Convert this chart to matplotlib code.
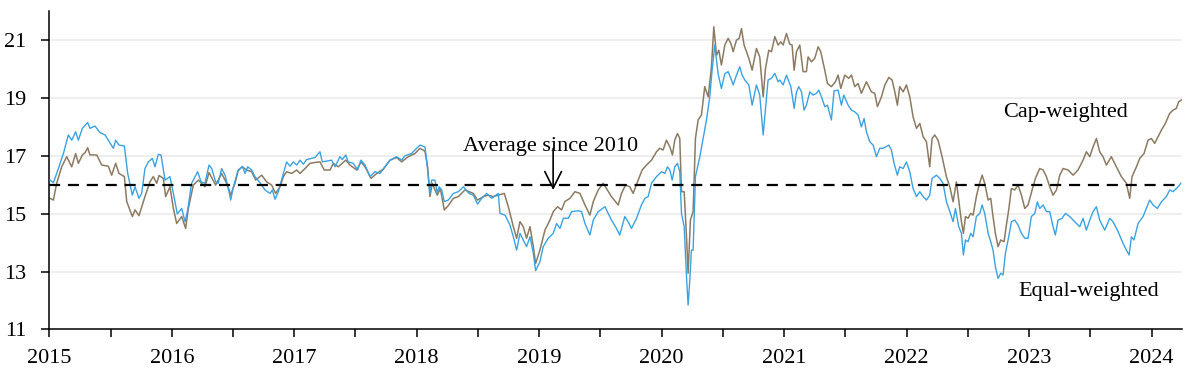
import numpy as np
import matplotlib
matplotlib.use("Agg")
import matplotlib.pyplot as plt
from matplotlib.ticker import MultipleLocator

plt.rcParams['font.family'] = ['Liberation Serif', 'DejaVu Serif']

# equal-weighted series (decimal years, value)
eq_dates = [2015.006, 2015.033, 2015.074, 2015.115, 2015.155, 2015.183, 2015.215, 2015.237, 2015.270, 2015.313,
            2015.332, 2015.373, 2015.414, 2015.455, 2015.482, 2015.523, 2015.542, 2015.569, 2015.613, 2015.640,
            2015.678, 2015.700, 2015.732, 2015.754, 2015.781, 2015.809, 2015.841, 2015.863, 2015.890, 2015.912,
            2015.945, 2015.985, 2016.013, 2016.045, 2016.081, 2016.108,
            2016.130, 2016.162, 2016.211, 2016.239, 2016.271, 2016.304, 2016.326, 2016.358, 2016.380, 2016.407,
            2016.435, 2016.462, 2016.481, 2016.503, 2016.538, 2016.576, 2016.598, 2016.620, 2016.652, 2016.679,
            2016.720, 2016.761, 2016.802, 2016.821, 2016.843, 2016.870, 2016.911, 2016.938, 2016.965, 2016.992,
            2017.020, 2017.047, 2017.074, 2017.101, 2017.142, 2017.169, 2017.210, 2017.229,
            2017.305, 2017.333, 2017.373, 2017.392, 2017.420, 2017.441, 2017.482, 2017.518, 2017.545, 2017.578,
            2017.618, 2017.659, 2017.700, 2017.741, 2017.782, 2017.836, 2017.877, 2017.904, 2017.958, 2017.999,
            2018.027, 2018.067, 2018.081, 2018.108, 2018.122, 2018.149, 2018.168, 2018.182, 2018.204, 2018.225,
            2018.258, 2018.299, 2018.340, 2018.381,
            2018.427, 2018.462, 2018.497, 2018.530, 2018.571, 2018.612, 2018.666, 2018.680, 2018.721, 2018.761,
            2018.789, 2018.816, 2018.843, 2018.870, 2018.897, 2018.925, 2018.952, 2018.971, 2019.006, 2019.033,
            2019.074, 2019.115, 2019.142, 2019.170, 2019.197, 2019.238, 2019.265, 2019.319, 2019.346, 2019.374,
            2019.414, 2019.442, 2019.482, 2019.537,
            2019.590, 2019.631, 2019.658, 2019.699, 2019.726, 2019.754, 2019.795, 2019.835, 2019.863, 2019.890,
            2019.917, 2019.958, 2019.999, 2020.026, 2020.048, 2020.067, 2020.086, 2020.107, 2020.129, 2020.148,
            2020.162, 2020.184, 2020.203, 2020.216, 2020.230, 2020.243, 2020.257, 2020.276, 2020.312, 2020.339,
            2020.366, 2020.393, 2020.412, 2020.434, 2020.461, 2020.488, 2020.516, 2020.543, 2020.565, 2020.584,
            2020.611, 2020.638, 2020.657, 2020.679,
            2020.712, 2020.739, 2020.774, 2020.801, 2020.829, 2020.848, 2020.869, 2020.897, 2020.924, 2020.951,
            2020.965, 2020.992, 2021.019, 2021.055, 2021.082, 2021.101, 2021.120, 2021.142, 2021.163, 2021.182,
            2021.210, 2021.237, 2021.264, 2021.283, 2021.305, 2021.332, 2021.354, 2021.386, 2021.408, 2021.441,
            2021.468, 2021.487, 2021.523, 2021.550, 2021.577, 2021.604, 2021.631, 2021.653, 2021.672, 2021.699,
            2021.727, 2021.754, 2021.781, 2021.808,
            2021.855, 2021.876, 2021.898, 2021.925, 2021.944, 2021.972, 2021.999, 2022.026, 2022.053, 2022.081,
            2022.108, 2022.135, 2022.162, 2022.189, 2022.208, 2022.244, 2022.271, 2022.298, 2022.325, 2022.353,
            2022.380, 2022.399, 2022.426, 2022.448, 2022.464, 2022.481, 2022.502, 2022.524, 2022.543, 2022.570,
            2022.598, 2022.617, 2022.638, 2022.666, 2022.687, 2022.706, 2022.725, 2022.747, 2022.769, 2022.788,
            2022.807, 2022.834, 2022.856, 2022.883, 2022.910, 2022.938, 2022.965,
            2022.992, 2023.019, 2023.047, 2023.068, 2023.087, 2023.115, 2023.142, 2023.169, 2023.196, 2023.215,
            2023.237, 2023.270, 2023.297, 2023.332, 2023.373, 2023.414, 2023.441, 2023.468, 2023.496, 2023.523,
            2023.550, 2023.577, 2023.618, 2023.659, 2023.686, 2023.727, 2023.768, 2023.795, 2023.817, 2023.836,
            2023.857, 2023.890, 2023.931, 2023.958, 2023.985, 2024.013, 2024.048, 2024.081, 2024.121, 2024.149,
            2024.176, 2024.203, 2024.225, 2024.238]
eq_vals = [16.16, 16.07, 16.56, 17.08, 17.72, 17.54, 17.83, 17.54, 17.95, 18.15,
           17.95, 18.03, 17.80, 17.72, 17.54, 17.26, 17.54, 17.37, 17.34, 16.39,
           15.64, 15.93, 15.53, 15.70, 16.56, 16.79, 16.91, 16.62, 17.05, 17.03,
           16.16, 16.28, 15.70, 14.99, 15.18, 14.72,
           15.13, 16.05, 16.45, 16.10, 16.05, 16.68, 16.56, 16.10, 16.05, 16.56,
           16.33, 15.87, 15.47, 15.93, 16.45, 16.64, 16.39, 16.62, 16.51, 16.28,
           16.07, 15.82, 15.70, 15.82, 15.50, 15.76, 16.39, 16.79, 16.64, 16.79,
           16.68, 16.85, 16.71, 16.87, 16.91, 16.94, 17.14, 16.79,
           16.85, 16.62, 16.97, 16.87, 17.03, 16.79, 16.74, 16.51, 16.85, 16.68,
           16.28, 16.45, 16.39, 16.62, 16.85, 16.97, 16.85, 17.00, 17.08, 17.26,
           17.37, 17.31, 16.85, 15.70, 16.16, 16.16, 15.70, 15.93, 15.82, 15.42,
           15.47, 15.70, 15.76, 15.93,
           15.70, 15.64, 15.33, 15.53, 15.70, 15.53, 15.70, 15.01, 14.95, 14.61,
           14.20, 13.74, 14.32, 14.09, 13.86, 14.20, 13.63, 13.03, 13.34, 13.86,
           14.15, 14.32, 14.66, 14.49, 14.84, 14.84, 15.07, 15.10, 15.07, 14.66,
           14.26, 14.78, 15.07, 15.24,
           14.78, 14.49, 14.26, 14.90, 14.72, 14.49, 14.84, 15.30, 15.53, 15.59,
           16.05, 16.28, 16.45, 16.39, 16.62, 16.51, 16.16, 16.62, 16.74, 16.45,
           15.01, 14.55, 12.82, 11.84, 12.70, 13.74, 13.74, 16.28, 16.97, 17.60,
           18.24, 19.04, 19.96, 20.83, 19.84, 19.33, 19.84, 19.91, 19.68, 19.45,
           19.79, 20.08, 19.79, 19.62,
           19.45, 18.75, 19.45, 19.10, 17.72, 18.64, 19.62, 19.68, 19.85, 19.56,
           19.62, 19.45, 19.79, 19.39, 18.64, 19.21, 19.39, 19.21, 18.58, 18.75,
           19.21, 19.10, 19.16, 19.27, 19.04, 18.70, 18.75, 18.24, 19.25, 19.27,
           18.75, 19.10, 18.75, 18.58, 18.52, 18.41, 18.00, 18.29, 17.83, 17.49,
           17.37, 16.97, 17.26, 17.26,
           17.37, 17.20, 16.74, 16.33, 16.62, 16.56, 16.79, 16.45, 15.87, 15.59,
           15.76, 15.59, 15.47, 15.64, 16.22, 16.33, 16.22, 16.05, 15.42, 15.07,
           14.72, 15.18, 14.55, 14.32, 13.57, 14.09, 14.03, 14.32, 14.20, 14.90,
           15.01, 15.30, 15.01, 14.32, 14.03, 13.74, 13.17, 12.76, 12.94, 12.88,
           13.63, 14.20, 14.72, 14.78, 14.61, 14.32, 14.15,
           14.15, 14.90, 15.01, 15.41, 15.18, 15.30, 15.07, 15.07, 14.55, 14.26,
           14.78, 14.84, 15.01, 14.90, 14.72, 14.55, 14.84, 14.43, 14.78, 15.07,
           15.24, 14.78, 14.43, 14.84, 14.72, 14.38, 13.97, 13.74, 13.57, 14.20,
           14.09, 14.66, 14.90, 15.18, 15.47, 15.30, 15.18, 15.41, 15.59, 15.82,
           15.76, 15.87, 15.96, 16.05]

# cap-weighted series
cap_dates = [2015.006, 2015.033, 2015.060, 2015.101, 2015.142, 2015.183, 2015.215, 2015.237, 2015.270, 2015.292,
             2015.313, 2015.332, 2015.387, 2015.428, 2015.482, 2015.509, 2015.542, 2015.569, 2015.613, 2015.632,
             2015.678, 2015.700, 2015.732, 2015.781, 2015.822, 2015.849, 2015.877, 2015.896, 2015.931, 2015.950,
             2015.985, 2016.013, 2016.040, 2016.081, 2016.113,
             2016.135, 2016.176, 2016.217, 2016.271, 2016.304, 2016.358, 2016.407, 2016.448, 2016.481, 2016.516,
             2016.543, 2016.576, 2016.611, 2016.652, 2016.685, 2016.734, 2016.775, 2016.815, 2016.848, 2016.884,
             2016.911, 2016.938, 2016.979, 2017.020, 2017.047, 2017.088, 2017.128, 2017.169, 2017.210, 2017.245,
             2017.292, 2017.319, 2017.360, 2017.420, 2017.455, 2017.510, 2017.545, 2017.578, 2017.627, 2017.673,
             2017.727, 2017.782, 2017.836, 2017.877, 2017.931, 2017.986, 2018.027, 2018.067, 2018.089, 2018.108,
             2018.127, 2018.149, 2018.168, 2018.193, 2018.225, 2018.258, 2018.299, 2018.340, 2018.394,
             2018.427, 2018.462, 2018.497, 2018.544, 2018.584, 2018.625, 2018.666, 2018.715, 2018.748, 2018.789,
             2018.816, 2018.843, 2018.870, 2018.897, 2018.925, 2018.952, 2018.971, 2019.006, 2019.047, 2019.088,
             2019.115, 2019.150, 2019.183, 2019.210, 2019.251, 2019.292, 2019.333, 2019.374, 2019.414, 2019.442,
             2019.482, 2019.523,
             2019.590, 2019.645, 2019.672, 2019.705, 2019.740, 2019.767, 2019.808, 2019.841, 2019.876, 2019.917,
             2019.958, 2019.985, 2020.012, 2020.039, 2020.067, 2020.088, 2020.107, 2020.129, 2020.148, 2020.162,
             2020.184, 2020.203, 2020.216, 2020.235, 2020.257, 2020.276, 2020.298, 2020.325, 2020.352, 2020.380,
             2020.407, 2020.426, 2020.448, 2020.467, 2020.488, 2020.516, 2020.543, 2020.565, 2020.584, 2020.611,
             2020.633, 2020.652, 2020.673,
             2020.712, 2020.739, 2020.774, 2020.801, 2020.829, 2020.848, 2020.875, 2020.897, 2020.924, 2020.951,
             2020.973, 2020.992, 2021.019, 2021.046, 2021.065, 2021.082, 2021.101, 2021.128, 2021.155, 2021.182,
             2021.196, 2021.223, 2021.250, 2021.278, 2021.299, 2021.332, 2021.354, 2021.386, 2021.419, 2021.441,
             2021.463, 2021.495, 2021.528, 2021.550, 2021.577, 2021.604, 2021.631, 2021.672, 2021.713, 2021.740,
             2021.762, 2021.795,
             2021.822, 2021.855, 2021.882, 2021.904, 2021.925, 2021.944, 2021.972, 2021.999, 2022.026, 2022.053,
             2022.081, 2022.108, 2022.135, 2022.162, 2022.189, 2022.208, 2022.230, 2022.257, 2022.290, 2022.325,
             2022.353, 2022.380, 2022.407, 2022.426, 2022.448, 2022.464, 2022.481, 2022.502, 2022.524, 2022.543,
             2022.570, 2022.592, 2022.617, 2022.638, 2022.666, 2022.687, 2022.706, 2022.725, 2022.747, 2022.769,
             2022.796, 2022.815, 2022.834, 2022.856, 2022.883, 2022.910, 2022.938, 2022.965,
             2022.992, 2023.025, 2023.052, 2023.087, 2023.115, 2023.142, 2023.169, 2023.196, 2023.224, 2023.251,
             2023.278, 2023.319, 2023.360, 2023.400, 2023.441, 2023.468, 2023.496, 2023.523, 2023.550, 2023.577,
             2023.604, 2023.632, 2023.672, 2023.713, 2023.754, 2023.795, 2023.822, 2023.841, 2023.877, 2023.904,
             2023.939, 2023.972, 2023.999, 2024.026, 2024.053, 2024.081, 2024.113, 2024.149, 2024.176, 2024.203,
             2024.222, 2024.244]
cap_vals = [15.53, 15.47, 16.05, 16.62, 16.97, 16.62, 17.08, 16.74, 17.03, 17.11,
            17.28, 17.03, 17.03, 16.68, 16.64, 16.33, 16.74, 16.39, 16.28, 15.42,
            14.90, 15.13, 14.93, 15.59, 16.10, 16.28, 16.05, 16.32, 16.22, 15.59,
            15.93, 15.18, 14.66, 14.90, 14.49,
            15.18, 15.99, 16.16, 15.93, 16.42, 15.99, 16.39, 16.05, 15.64, 16.05,
            16.51, 16.62, 16.51, 16.45, 16.16, 16.33, 16.10, 15.99, 15.70, 15.93,
            16.28, 16.45, 16.39, 16.51, 16.39, 16.56, 16.74, 16.77, 16.79, 16.51,
            16.51, 16.74, 16.62, 16.85, 16.68, 16.51, 16.79, 16.62, 16.22, 16.39,
            16.54, 16.85, 16.94, 16.79, 16.97, 17.08, 17.26, 17.16, 16.62, 15.59,
            16.05, 15.82, 15.64, 15.87, 15.13, 15.28, 15.53, 15.59, 15.82,
            15.76, 15.70, 15.47, 15.59, 15.64, 15.59, 15.64, 15.70, 15.24, 14.55,
            14.15, 14.72, 14.55, 14.15, 14.55, 13.86, 13.28, 13.74, 14.43, 14.78,
            15.07, 15.24, 15.13, 15.42, 15.53, 15.76, 15.70, 15.30, 14.95, 15.42,
            15.82, 16.05,
            15.59, 15.30, 15.70, 15.99, 15.93, 15.70, 16.16, 16.51, 16.68, 16.85,
            17.14, 17.26, 17.20, 17.54, 17.31, 17.03, 17.54, 17.77, 17.60, 15.76,
            15.76, 14.20, 12.94, 14.78, 15.07, 17.60, 18.24, 18.41, 19.39, 19.04,
            20.08, 21.46, 20.48, 20.65, 20.14, 20.83, 21.06, 20.89, 20.60, 21.00,
            21.06, 21.40, 20.83,
            20.37, 19.96, 20.71, 20.42, 19.04, 20.02, 20.65, 20.60, 21.12, 20.83,
            20.94, 20.83, 21.23, 20.86, 20.83, 19.96, 20.60, 20.83, 19.91, 19.91,
            20.42, 20.25, 20.37, 20.77, 20.60, 19.96, 19.50, 19.39, 19.56, 19.79,
            19.33, 19.79, 19.68, 19.79, 19.39, 19.50, 19.16, 19.56, 19.21, 19.16,
            18.70, 19.04,
            19.44, 19.71, 19.62, 19.21, 18.75, 19.39, 19.21, 19.45, 19.04, 18.35,
            17.95, 18.12, 17.66, 17.49, 16.62, 17.60, 17.72, 17.54, 16.97, 16.28,
            15.93, 15.41, 16.10, 15.47, 14.72, 14.32, 14.90, 14.84, 15.01, 14.95,
            15.59, 15.99, 16.33, 16.05, 15.47, 15.53, 14.90, 14.32, 13.86, 14.09,
            14.03, 14.61, 15.13, 15.87, 15.82, 15.99, 15.64, 15.18,
            15.30, 15.82, 16.22, 16.56, 16.51, 16.28, 15.93, 15.64, 15.82, 16.33,
            16.56, 16.51, 16.33, 16.51, 16.85, 17.14, 16.97, 17.31, 17.60, 17.14,
            16.97, 16.68, 16.97, 16.62, 16.28, 16.05, 15.53, 16.28, 16.62, 16.91,
            17.08, 17.54, 17.60, 17.43, 17.66, 17.89, 18.12, 18.47, 18.58, 18.64,
            18.87, 18.93]

avg_since_2010 = 16.0
year_ticks = list(range(2015, 2025))
y_ticks = [11, 13, 15, 17, 19, 21]

fig = plt.figure(figsize=(12, 3.73), dpi=100)
ax = fig.add_axes([0.0411, 0.117, 0.944, 0.853])

for y in y_ticks[1:]:
    ax.axhline(y, color='#eeeeee', lw=1.5, zorder=0)

ax.plot(cap_dates, cap_vals, color='#8c7b63', lw=1.1, zorder=2)
ax.plot(eq_dates, eq_vals, color='#3aa3df', lw=1.0, zorder=3)
ax.axhline(avg_since_2010, color='black', lw=1.6, ls=(0, (5, 3.5)), zorder=4)

ax.set_xlim(2015, 2024.25)
ax.set_ylim(11, 22)
ax.set_xticks(year_ticks)
ax.set_xticklabels([str(y) for y in year_ticks])
ax.xaxis.set_minor_locator(MultipleLocator(0.5))
ax.set_yticks(y_ticks)

for s in ['top', 'right']:
    ax.spines[s].set_visible(False)
for s in ['left', 'bottom']:
    ax.spines[s].set_linewidth(1.1)
ax.tick_params(axis='both', which='both', length=5.5, width=1.1, labelsize=16)
ax.tick_params(axis='x', which='major', pad=9)
ax.tick_params(axis='y', pad=11)

ax.annotate('', xy=(2019.114, 15.72), xytext=(2019.114, 17.35),
            arrowprops=dict(arrowstyle='->', color='black', lw=1.2, mutation_scale=30), zorder=5)
ax.text(2019.09, 17.18, 'Average since 2010', ha='center', va='baseline', fontsize=16, zorder=6)
ax.text(2023.30, 18.33, 'Cap-weighted', ha='center', va='baseline', fontsize=16)
ax.text(2023.49, 12.15, 'Equal-weighted', ha='center', va='baseline', fontsize=16)

fig.savefig('out.png', dpi=100)
